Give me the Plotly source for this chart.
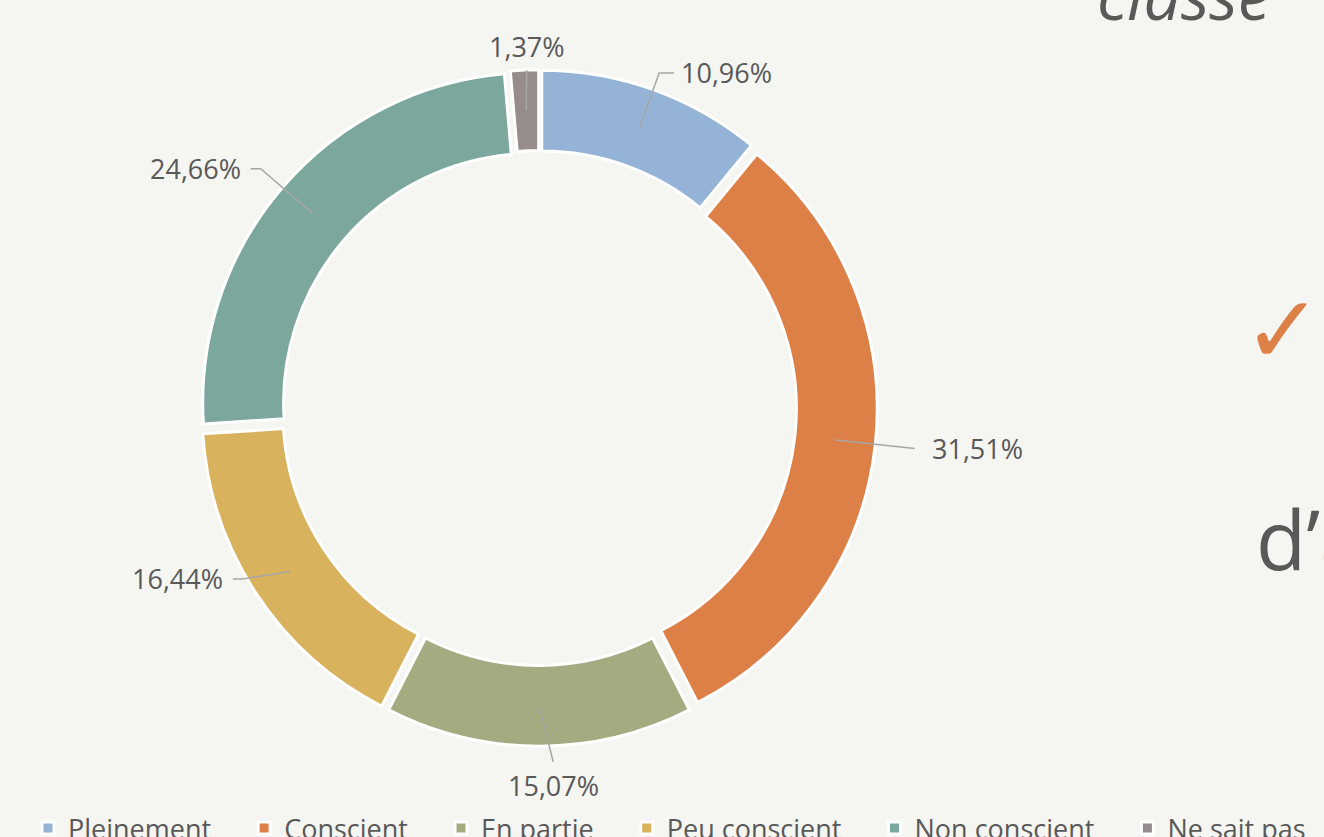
import math
import plotly.graph_objects as go

# ---- data ----
categories = ["Pleinement", "Conscient", "En partie", "Peu conscient", "Non conscient", "Ne sait pas"]
values = [10.96, 31.51, 15.07, 16.44, 24.66, 1.37]
colors = ["#95B3D7", "#DD8047", "#A5AB81", "#D8B25C", "#7BA79D", "#968C8C"]

# ---- layout constants (pixels) ----
W, H = 1324, 837
CX, CY = 539, 408          # donut centre
R = 330                    # outer radius before pull
HOLE = 0.755
PULL = 0.025
BG = "#F5F5F1"
TXT = "#595959"
FONT = "Open Sans"
LBL_SIZE = 27

# label placement style (per slice): leader end radius, angle nudge (deg), horizontal tail
label_radius = [356, 378, 354, 342, 367, 338]
label_nudge = [0.0, 0.0, -2.3, 3.3, 0.0, 0.4]
label_tail = [15, 0, 0, 10, 10, 0]
label_gap = [5, 15, 0, 8, 8, 0]


def px(x):
    return x / W


def py(y):
    return 1 - y / H


half = R * (1 + PULL)
domain_x = [px(CX - half), px(CX + half)]
domain_y = [py(CY + half), py(CY - half)]

legend_names = [c + "\u00a0" * 4 for c in categories]

fig = go.Figure(go.Pie(
    labels=legend_names,
    values=values,
    hole=HOLE,
    pull=[PULL] * len(values),
    sort=False,
    direction="clockwise",
    rotation=0,
    marker=dict(colors=colors, line=dict(color="white", width=3)),
    textinfo="none",
    hoverinfo="label+percent",
    domain=dict(x=domain_x, y=domain_y),
))

# ---- data labels with leader lines, positioned from the slice angles ----
total = sum(values)
shapes = []
annotations = []
cum = 0.0
r_mid = R * (1 + HOLE) / 2 + R * PULL
for i, v in enumerate(values):
    ang = (cum + v / 2) / total * 2 * math.pi
    cum += v
    s, c = math.sin(ang), math.cos(ang)
    x0, y0 = CX + r_mid * s, CY - r_mid * c
    a2 = ang + math.radians(label_nudge[i])
    re = label_radius[i]
    x1, y1 = CX + re * math.sin(a2), CY - re * math.cos(a2)
    label = f"{v:.2f}".replace(".", ",") + "%"
    deg = math.degrees(ang)
    font = dict(size=LBL_SIZE, color=TXT, family=FONT)
    if deg < 12 or deg > 348 or abs(deg - 180) < 12:
        path = f"M{px(x0)},{py(y0)} L{px(x1)},{py(y1)}"
        ty = y1 - 24 if c > 0 else y1 + 24
        annotations.append(dict(x=px(x1), y=py(ty), text=label, xanchor="center",
                                yanchor="middle", showarrow=False, xref="paper", yref="paper",
                                font=font))
    else:
        side = 1 if s > 0 else -1
        x2 = x1 + side * label_tail[i]
        path = f"M{px(x0)},{py(y0)} L{px(x1)},{py(y1)} L{px(x2)},{py(y1)}"
        annotations.append(dict(x=px(x2 + side * label_gap[i]), y=py(y1), text=label,
                                xanchor="left" if side > 0 else "right",
                                yanchor="middle", showarrow=False, xref="paper", yref="paper",
                                font=font))
    shapes.append(dict(type="path", path=path, xref="paper", yref="paper",
                       line=dict(color="#A6A6A6", width=1.5)))

# ---- surrounding slide text ----
annotations += [
    dict(x=px(1095), y=py(-6), text="<i>classe</i>", xanchor="left", yanchor="middle",
         showarrow=False, xref="paper", yref="paper",
         font=dict(size=66, color=TXT, family=FONT)),
    dict(x=px(1283), y=py(330), text="✓", xanchor="center", yanchor="middle",
         showarrow=False, xref="paper", yref="paper",
         font=dict(size=95, color="#DD8047", family="DejaVu Sans")),
    dict(x=px(1254), y=py(538), text="d’<span style='color:#DD8047'>a</span>",
         xanchor="left", yanchor="middle", showarrow=False, xref="paper", yref="paper",
         font=dict(size=82, color=TXT, family=FONT)),
]

fig.update_layout(
    width=W, height=H,
    margin=dict(l=0, r=0, t=0, b=0, autoexpand=False),
    paper_bgcolor=BG, plot_bgcolor=BG,
    showlegend=True,
    legend=dict(orientation="h", x=px(28), xanchor="left", y=py(804), yanchor="top",
                font=dict(size=LBL_SIZE, color=TXT, family=FONT),
                bgcolor="rgba(0,0,0,0)", traceorder="normal"),
    shapes=shapes,
    annotations=annotations,
)

fig.write_html("out.html", config={"displayModeBar": False},
               post_script="document.body.style.margin='0';")
